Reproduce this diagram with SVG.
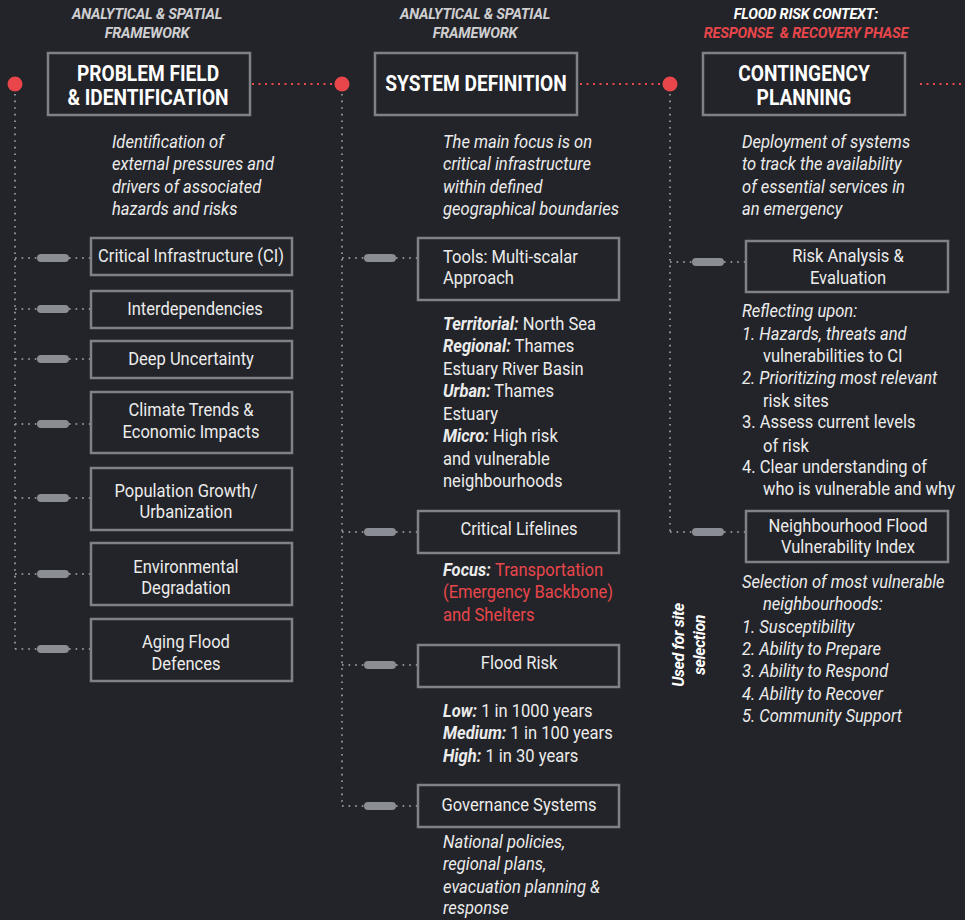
<svg xmlns="http://www.w3.org/2000/svg" width="965" height="920" viewBox="0 0 965 920">
<style>
text{font-family:Roboto,"Liberation Sans",sans-serif;fill:#ececec;font-size:19px}
text:not(.vert):not(.hd){transform-box:fill-box;transform-origin:0 0;transform:scaleX(0.87)}
text.c:not(.vert){transform-origin:50% 0}
text.ttl:not(.vert){font-size:22.5px;font-weight:bold;fill:#ffffff;text-anchor:middle;transform-origin:50% 0;transform:scaleX(0.85)}
.hd{font-size:14.5px;font-weight:bold;font-style:italic;fill:#cfcfd1;text-anchor:middle;letter-spacing:-0.2px}
.red{fill:#e8464b}
.it{font-style:italic}
.b{font-weight:bold;font-style:italic}
.c{text-anchor:middle}
.box{fill:#232429;stroke:#7e8188;stroke-width:2.5}
.pill{fill:#8a8d93}
.vd{stroke:#8a8d93;stroke-width:2;stroke-dasharray:1.6 5;fill:none}
.rd{stroke:#e8464b;stroke-width:2;stroke-dasharray:2 4.5;fill:none}
.dot{fill:#e8464b}
.vert{font-size:16px;font-weight:bold;font-style:italic;fill:#ffffff;text-anchor:middle;letter-spacing:-0.4px}
</style>
<rect width="965" height="920" fill="#232429"/>

<g id="connectors">
<line class="rd" x1="252" y1="84" x2="332" y2="84"/>
<line class="rd" x1="580" y1="84" x2="660" y2="84"/>
<line class="rd" x1="920" y1="84" x2="965" y2="84"/>
<path class="vd" d="M15 94 V649"/>
<path class="vd" d="M342 94 V806"/>
<path class="vd" d="M670 94 V532"/>
<g class="vd">
<path d="M15 258 H37 M69 258 H90"/>
<path d="M15 309 H37 M69 309 H90"/>
<path d="M15 359 H37 M69 359 H90"/>
<path d="M15 424 H37 M69 424 H90"/>
<path d="M15 498 H37 M69 498 H90"/>
<path d="M15 574 H37 M69 574 H90"/>
<path d="M15 649 H37 M69 649 H90"/>
<path d="M342 258 H364 M396 258 H418"/>
<path d="M342 532 H364 M396 532 H418"/>
<path d="M342 665 H364 M396 665 H418"/>
<path d="M342 806 H364 M396 806 H418"/>
<path d="M670 262 H692 M724 262 H746"/>
<path d="M670 532 H692 M724 532 H746"/>
</g>
<g class="pill">
<rect x="37" y="254" width="32" height="8" rx="4"/>
<rect x="37" y="305" width="32" height="8" rx="4"/>
<rect x="37" y="355" width="32" height="8" rx="4"/>
<rect x="37" y="420" width="32" height="8" rx="4"/>
<rect x="37" y="494" width="32" height="8" rx="4"/>
<rect x="37" y="570" width="32" height="8" rx="4"/>
<rect x="37" y="645" width="32" height="8" rx="4"/>
<rect x="364" y="254" width="32" height="8" rx="4"/>
<rect x="364" y="528" width="32" height="8" rx="4"/>
<rect x="364" y="661" width="32" height="8" rx="4"/>
<rect x="364" y="802" width="32" height="8" rx="4"/>
<rect x="692" y="258" width="32" height="8" rx="4"/>
<rect x="692" y="528" width="32" height="8" rx="4"/>
</g>
<circle class="dot" cx="15" cy="84" r="7.5"/>
<circle class="dot" cx="342" cy="84" r="7.5"/>
<circle class="dot" cx="670" cy="84" r="7.5"/>
</g>

<g id="header-1">
<text class="hd" x="147" y="19">ANALYTICAL &amp; SPATIAL</text>
<text class="hd" x="147" y="38">FRAMEWORK</text>
</g>
<g id="header-2">
<text class="hd" x="475" y="19">ANALYTICAL &amp; SPATIAL</text>
<text class="hd" x="475" y="38">FRAMEWORK</text>
</g>
<g id="header-3">
<text class="hd" x="806" y="19" style="fill:#ffffff">FLOOD RISK CONTEXT:</text>
<text class="hd red" x="806" y="38" xml:space="preserve">RESPONSE  &amp; RECOVERY PHASE</text>
</g>

<g id="problem-field">
<rect class="box" x="48" y="53" width="202" height="62"/>
<text class="ttl" x="148" y="81">PROBLEM FIELD</text>
<text class="ttl" x="148" y="105">&amp; IDENTIFICATION</text>
<text class="it" x="112" y="148">Identification of</text>
<text class="it" x="112" y="170">external pressures and</text>
<text class="it" x="112" y="193">drivers of associated</text>
<text class="it" x="112" y="215">hazards and risks</text>
</g>
<g id="system-definition">
<rect class="box" x="375" y="53" width="202" height="62"/>
<text class="ttl" x="476" y="91">SYSTEM DEFINITION</text>
<text class="it" x="443" y="148">The main focus is on</text>
<text class="it" x="443" y="170">critical infrastructure</text>
<text class="it" x="443" y="193">within defined</text>
<text class="it" x="443" y="215">geographical boundaries</text>
</g>
<g id="contingency-planning">
<rect class="box" x="703" y="53" width="202" height="62"/>
<text class="ttl" x="804" y="81">CONTINGENCY</text>
<text class="ttl" x="804" y="105">PLANNING</text>
<text class="it" x="742" y="148">Deployment of systems</text>
<text class="it" x="742" y="170">to track the availability</text>
<text class="it" x="742" y="193">of essential services in</text>
<text class="it" x="742" y="215">an emergency</text>
</g>

<g id="critical-infrastructure">
<rect class="box" x="91" y="238" width="201" height="37"/>
<text class="c" x="191" y="262">Critical Infrastructure (CI)</text>
</g>
<g id="interdependencies">
<rect class="box" x="91" y="291" width="201" height="37"/>
<text class="c" x="195" y="315">Interdependencies</text>
</g>
<g id="deep-uncertainty">
<rect class="box" x="91" y="341" width="201" height="37"/>
<text class="c" x="191" y="365">Deep Uncertainty</text>
</g>
<g id="climate-trends">
<rect class="box" x="91" y="392" width="201" height="61"/>
<text class="c" x="191" y="416">Climate Trends &amp;</text>
<text class="c" x="191" y="438">Economic Impacts</text>
</g>
<g id="population-growth">
<rect class="box" x="91" y="468" width="201" height="62"/>
<text class="c" x="186" y="497">Population Growth/</text>
<text class="c" x="186" y="518">Urbanization</text>
</g>
<g id="environmental-degradation">
<rect class="box" x="91" y="543" width="201" height="62"/>
<text class="c" x="186" y="573">Environmental</text>
<text class="c" x="186" y="594">Degradation</text>
</g>
<g id="aging-flood-defences">
<rect class="box" x="91" y="619" width="201" height="62"/>
<text class="c" x="186" y="648">Aging Flood</text>
<text class="c" x="186" y="670">Defences</text>
</g>

<g id="tools">
<rect class="box" x="418" y="238" width="201" height="62"/>
<text x="443" y="263">Tools: Multi-scalar</text>
<text x="443" y="284">Approach</text>
<text x="443" y="330"><tspan class="b">Territorial:</tspan> North Sea</text>
<text x="443" y="352.5"><tspan class="b">Regional:</tspan> Thames</text>
<text x="443" y="375">Estuary River Basin</text>
<text x="443" y="397.5"><tspan class="b">Urban:</tspan> Thames</text>
<text x="443" y="420">Estuary</text>
<text x="443" y="442.5"><tspan class="b">Micro:</tspan> High risk</text>
<text x="443" y="465">and vulnerable</text>
<text x="443" y="487.5">neighbourhoods</text>
</g>
<g id="critical-lifelines">
<rect class="box" x="418" y="511" width="201" height="42"/>
<text class="c" x="519" y="535">Critical Lifelines</text>
<text x="443" y="576"><tspan class="b">Focus:</tspan> <tspan class="red">Transportation</tspan></text>
<text class="red" x="443" y="598">(Emergency Backbone)</text>
<text class="red" x="443" y="621">and Shelters</text>
</g>
<g id="flood-risk">
<rect class="box" x="418" y="645" width="201" height="42"/>
<text class="c" x="519" y="669">Flood Risk</text>
<text x="443" y="717"><tspan class="b">Low:</tspan> 1 in 1000 years</text>
<text x="443" y="739"><tspan class="b">Medium:</tspan> 1 in 100 years</text>
<text x="443" y="762"><tspan class="b">High:</tspan> 1 in 30 years</text>
</g>
<g id="governance-systems">
<rect class="box" x="418" y="785" width="201" height="42"/>
<text class="c" x="519" y="811">Governance Systems</text>
<text class="it" x="443" y="848">National policies,</text>
<text class="it" x="443" y="870">regional plans,</text>
<text class="it" x="443" y="893">evacuation planning &amp;</text>
<text class="it" x="443" y="914">response</text>
</g>

<g id="risk-analysis">
<rect class="box" x="746" y="241" width="202" height="51"/>
<text class="c" x="848" y="262">Risk Analysis &amp;</text>
<text class="c" x="848" y="284">Evaluation</text>
<text class="it" x="742" y="317">Reflecting upon:</text>
<text class="it" x="742" y="340">1. Hazards, threats and</text>
<text x="763" y="362">vulnerabilities to CI</text>
<text class="it" x="742" y="384">2. Prioritizing most relevant</text>
<text x="763" y="407">risk sites</text>
<text x="742" y="428">3. Assess current levels</text>
<text x="763" y="452">of risk</text>
<text x="742" y="473">4. Clear understanding of</text>
<text x="763" y="495">who is vulnerable and why</text>
</g>
<g id="vulnerability-index">
<rect class="box" x="746" y="511" width="202" height="51"/>
<text class="c" x="848" y="532">Neighbourhood Flood</text>
<text class="c" x="848" y="553">Vulnerability Index</text>
<text class="it" x="742" y="588">Selection of most vulnerable</text>
<text class="it" x="763" y="610">neighbourhoods:</text>
<text class="it" x="742" y="633">1. Susceptibility</text>
<text class="it" x="742" y="655">2. Ability to Prepare</text>
<text class="it" x="742" y="677">3. Ability to Respond</text>
<text class="it" x="742" y="700">4. Ability to Recover</text>
<text class="it" x="742" y="722">5. Community Support</text>
</g>

<g id="site-selection-note">
<text class="vert" transform="translate(684 645) rotate(-90)">Used for site</text>
<text class="vert" transform="translate(705 645) rotate(-90)">selection</text>
</g>
</svg>
